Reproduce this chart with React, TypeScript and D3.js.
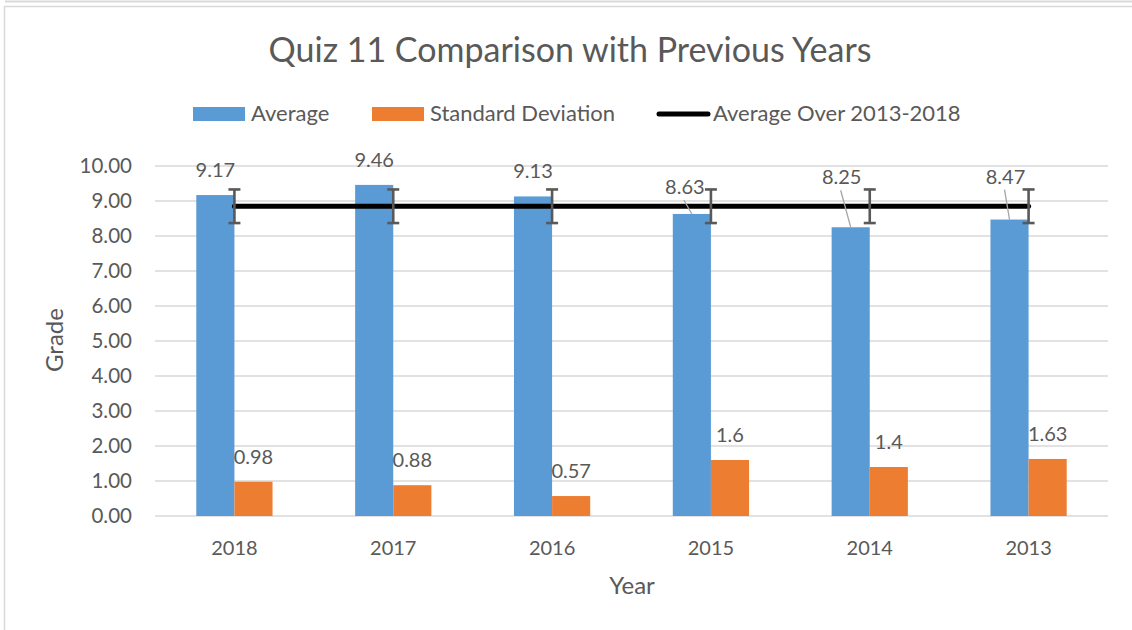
import React from 'react'
import * as d3 from 'd3'

// chart data
const years = ['2018', '2017', '2016', '2015', '2014', '2013']
const averages = [9.17, 9.46, 9.13, 8.63, 8.25, 8.47]
const stdDevs = [0.98, 0.88, 0.57, 1.6, 1.4, 1.63]
const overallAvg = [8.85, 8.85, 8.85, 8.85, 8.85, 8.85]
const overallErr = [0.48, 0.48, 0.48, 0.48, 0.48, 0.48]
const yTicks = [0, 1, 2, 3, 4, 5, 6, 7, 8, 9, 10]
const seriesNames = ['Average', 'Standard Deviation', 'Average Over 2013-2018']

// labels that were dragged away from the bar (with leader lines)
const avgLabelMoves = [null, null, null, { dx: -7, dy: -2 }, { dx: -9, dy: -25 }, { dx: -4, dy: -18 }]

const W = 1132
const H = 630
const FONT = 'Lato, "Open Sans", sans-serif'
const TXT = '#595959'
const BLUE = '#5b9bd5'
const ORANGE = '#ed7d31'
const GRID = '#d9d9d9'

const App = () => {
  const x = d3.scaleBand().domain(years).range([155, 1108]).paddingInner(0.52).paddingOuter(0.26)
  const inner = d3.scaleBand().domain(['avg', 'sd']).range([0, x.bandwidth()])
  const y = d3.scaleLinear().domain([0, 10]).range([516, 166])
  const cx = (yr: string) => (x(yr) as number) + x.bandwidth() / 2

  const line = d3
    .line<number>()
    .x((_, i) => cx(years[i]))
    .y((d) => y(d))

  const labelGap = 25

  return (
    <svg width={W} height={H} style={{ position: 'absolute', left: 0, top: 0, background: '#fff' }} fontFamily={FONT}>
      {/* frame of the chart area */}
      <line x1={5} x2={W} y1={1.5} y2={1.5} stroke={GRID} strokeWidth={2} />
      <rect x={4.5} y={6.5} width={W + 20} height={H + 20} fill="none" stroke={GRID} strokeWidth={1.5} />

      <text x={570} y={62} textAnchor="middle" fontSize={34} fill={TXT}>
        Quiz 11 Comparison with Previous Years
      </text>

      {/* legend */}
      <rect x={193} y={107} width={52} height={14} fill={BLUE} />
      <text x={251} y={121} fontSize={22} fill={TXT}>{seriesNames[0]}</text>
      <rect x={372} y={107} width={52} height={14} fill={ORANGE} />
      <text x={430} y={121} fontSize={22} fill={TXT}>{seriesNames[1]}</text>
      <line x1={659} x2={708} y1={114} y2={114} stroke="#000" strokeWidth={5} strokeLinecap="round" />
      <text x={713} y={121} fontSize={22} fill={TXT}>{seriesNames[2]}</text>

      {/* grid + y ticks */}
      {yTicks.map((t) => (
        <g key={t}>
          <line x1={155} x2={1108} y1={y(t)} y2={y(t)} stroke={GRID} strokeWidth={1.3} />
          <text x={132} y={y(t) + 7} textAnchor="end" fontSize={20.5} fill={TXT}>
            {t.toFixed(2)}
          </text>
        </g>
      ))}

      {/* bars */}
      {years.map((yr, i) => {
        const x0 = x(yr) as number
        return (
          <g key={yr}>
            <rect x={x0 + (inner('avg') as number)} y={y(averages[i])} width={inner.bandwidth()} height={y(0) - y(averages[i])} fill={BLUE} />
            <rect x={x0 + (inner('sd') as number)} y={y(stdDevs[i])} width={inner.bandwidth()} height={y(0) - y(stdDevs[i])} fill={ORANGE} />
          </g>
        )
      })}

      {/* overall average line with error bars */}
      <path d={line(overallAvg) || ''} fill="none" stroke="#000" strokeWidth={5} strokeLinecap="round" />
      {years.map((yr, i) => {
        const c = cx(yr)
        const top = y(overallAvg[i] + overallErr[i])
        const bot = y(overallAvg[i] - overallErr[i])
        return (
          <g key={'e' + yr} stroke="#595959" strokeWidth={2.6}>
            <line x1={c} x2={c} y1={top} y2={bot} />
            <line x1={c - 6} x2={c + 6} y1={top} y2={top} />
            <line x1={c - 6} x2={c + 6} y1={bot} y2={bot} />
          </g>
        )
      })}

      {/* data labels */}
      {years.map((yr, i) => {
        const x0 = x(yr) as number
        const bx = x0 + (inner('avg') as number) + inner.bandwidth() / 2
        const by = y(averages[i])
        const mv = avgLabelMoves[i]
        const lx = bx + (mv ? mv.dx : 0)
        const ly = by - labelGap + (mv ? mv.dy : 0)
        const sx = x0 + (inner('sd') as number) + inner.bandwidth() / 2
        const sy = y(stdDevs[i]) - labelGap
        return (
          <g key={'l' + yr}>
            {mv && <line x1={lx - 1} y1={ly + 13} x2={bx} y2={by} stroke="#a6a6a6" strokeWidth={1.3} />}
            <text x={lx} y={ly + 7} textAnchor="middle" fontSize={20} fill={TXT}>{averages[i]}</text>
            <text x={sx} y={sy + 7} textAnchor="middle" fontSize={20} fill={TXT}>{stdDevs[i]}</text>
          </g>
        )
      })}

      {/* x labels */}
      {years.map((yr) => (
        <text key={'x' + yr} x={cx(yr)} y={555} textAnchor="middle" fontSize={20} fill={TXT}>
          {yr}
        </text>
      ))}

      <text x={632} y={594} textAnchor="middle" fontSize={24} fill={TXT}>Year</text>
      <text transform={`translate(63,340) rotate(-90)`} textAnchor="middle" fontSize={24} fill={TXT}>Grade</text>
    </svg>
  )
}

export default App
